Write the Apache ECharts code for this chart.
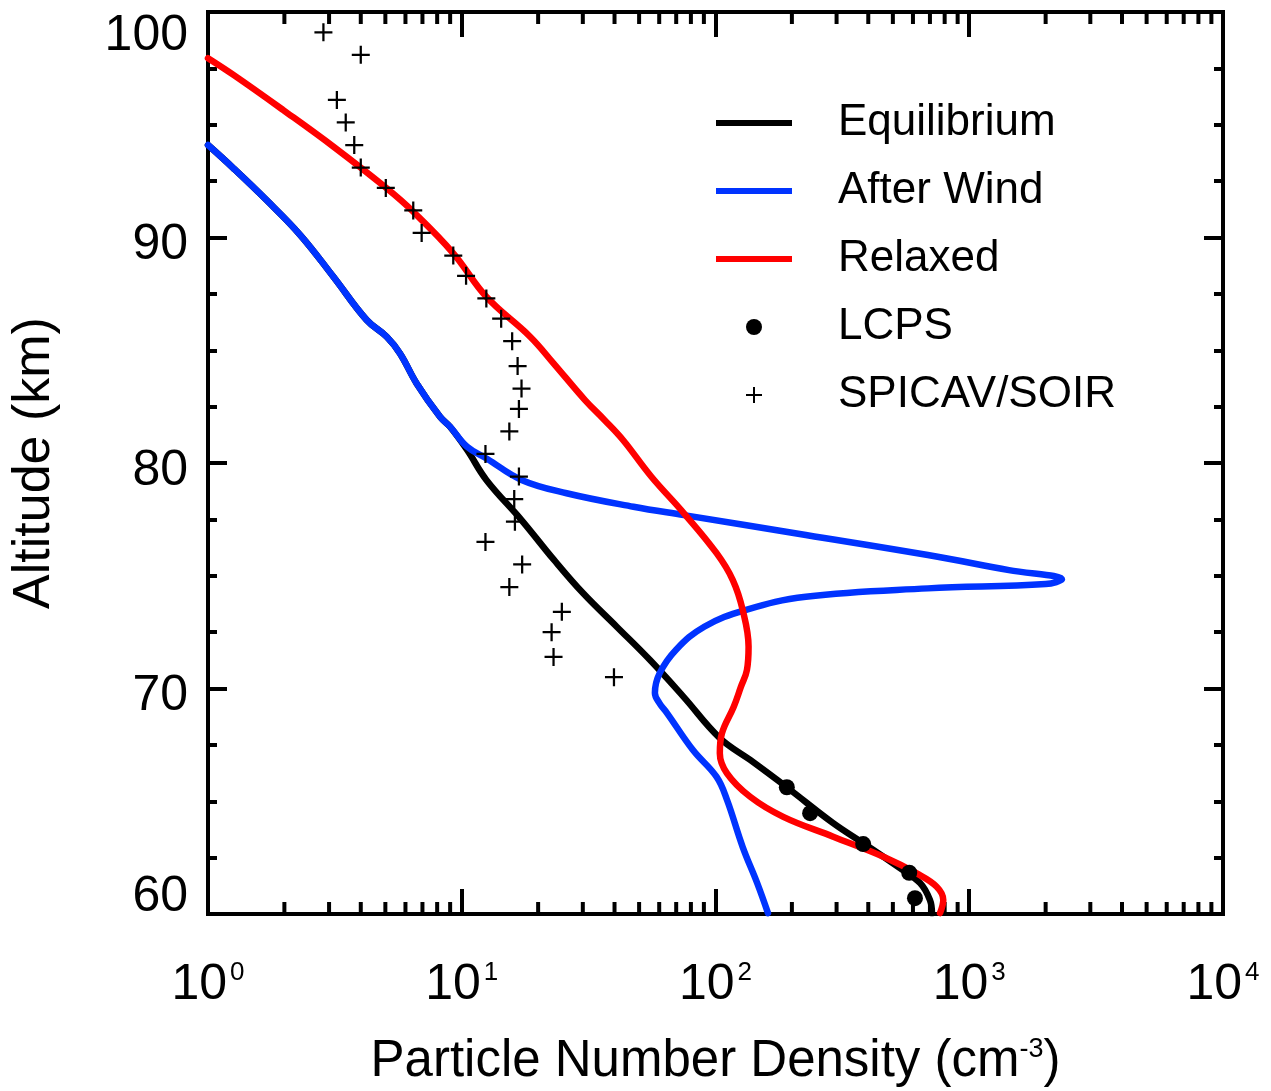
<!DOCTYPE html>
<html><head><meta charset="utf-8">
<script src="https://cdn.jsdelivr.net/npm/echarts@6/dist/echarts.min.js"></script>
<style>html,body{margin:0;padding:0;background:#fff}#c{width:1271px;height:1091px}</style>
</head><body><div id="c"></div>
<script>
// ---------------- data ----------------
const seriesNames = ['Equilibrium', 'After Wind', 'Relaxed', 'LCPS', 'SPICAV/SOIR'];

const equilibriumDensity = [1.00, 1.26, 1.70, 2.31, 3.12, 4.22, 5.06, 5.71, 6.64, 8.21, 8.99, 10.5, 12.5, 17.2, 23.1, 30.1, 40.8, 55.2, 74.7, 104, 137, 191, 290, 381, 526, 640, 700, 713];
const equilibriumAlt     = [94.10, 93.07, 91.66, 90.11, 88.26, 86.34, 85.60, 84.86, 83.53, 82.05, 81.61, 80.58, 79.25, 77.47, 75.70, 74.22, 72.74, 71.26, 69.64, 67.80, 66.83, 65.62, 64.04, 63.15, 62.08, 61.37, 60.62, 60.04];

const afterWindDensity = [1.00, 1.26, 1.70, 2.31, 3.12, 4.22, 5.06, 5.71, 6.64, 8.21, 8.99, 10.5, 12.6, 17.2, 25.9, 47.5, 75.1, 227, 687, 1434, 2320, 2001, 687, 227, 131, 90.3, 69.8, 60.2, 57.7, 60.2, 64.4, 81.5, 101, 111, 128, 146, 161];
const afterWindAlt     = [94.10, 93.07, 91.66, 90.11, 88.26, 86.34, 85.60, 84.86, 83.53, 82.05, 81.61, 80.72, 80.18, 79.25, 78.66, 78.06, 77.69, 76.81, 75.92, 75.25, 74.84, 74.63, 74.44, 74.07, 73.48, 72.74, 71.71, 70.67, 69.80, 69.34, 68.91, 67.27, 66.08, 65.06, 62.97, 61.37, 60.04];

const relaxedDensity = [1.00, 1.26, 1.98, 3.12, 5.06, 6.44, 9.26, 12.5, 18.6, 23.0, 30.6, 36.5, 43.2, 55.9, 75.1, 101, 117, 128, 135, 133, 126, 118, 106, 104, 111, 137, 185, 291, 459, 621, 744, 790, 767];
const relaxedAlt     = [97.95, 97.21, 95.65, 94.03, 92.18, 91.14, 89.30, 87.37, 85.60, 84.42, 82.79, 81.91, 81.02, 79.39, 77.77, 76.00, 74.81, 73.48, 71.85, 70.82, 70.08, 69.19, 68.01, 67.13, 66.24, 65.20, 64.31, 63.43, 62.54, 61.80, 61.21, 60.62, 60.04];

const lcpsDensity = [191, 236, 382, 580, 611];
const lcpsAlt     = [65.62, 64.47, 63.10, 61.83, 60.70];

const spicavDensity = [2.85, 4.00, 3.22, 3.49, 3.77, 4.00, 5.02, 6.44, 6.95, 9.26, 10.4, 12.5, 14.3, 15.8, 16.6, 17.2, 16.8, 15.4, 12.4, 16.8, 16.1, 16.2, 12.4, 17.3, 15.4, 24.8, 22.6, 23.0, 39.8];
const spicavAlt     = [99.1, 98.1, 96.1, 95.1, 94.1, 93.1, 92.2, 91.2, 90.2, 89.2, 88.3, 87.3, 86.4, 85.4, 84.3, 83.3, 82.4, 81.4, 80.4, 79.4, 78.4, 77.4, 76.5, 75.5, 74.5, 73.4, 72.5, 71.4, 70.5];

// axis ranges and minor (log) tick values
const xMin = 1, xMax = 10000;
const yMin = 60, yMax = 100, yStep = 10;
const xMinorTicks = [2,3,4,5,6,7,8,9, 20,30,40,50,60,70,80,90, 200,300,400,500,600,700,800,900, 2000,3000,4000,5000,6000,7000,8000,9000];

// ---------------- styling ----------------
const FONT = "'Liberation Sans', Arial, Helvetica, sans-serif";
const colors = ['#000000', '#0033ff', '#ff0000', '#000000', '#000000'];
const crossPath = 'path://M7,0h2v7h7v2h-7v7h-2v-7h-7v-2h7z';
const legendLine = 'path://M0,0H76V6H0Z';

function pairs(xs, ys) { return xs.map((x, i) => [x, ys[i]]); }

const chart = echarts.init(document.getElementById('c'), null, {renderer: 'canvas'});

function lineSeries(i, xs, ys) {
  return {
    name: seriesNames[i], type: 'line', data: pairs(xs, ys),
    xAxisIndex: 0, yAxisIndex: 0,
    showSymbol: false, symbol: 'none', smooth: 0.4, clip: true,
    color: colors[i],
    itemStyle: {color: colors[i], opacity: 1},
    lineStyle: {color: colors[i], width: 6.5, join: 'round', cap: 'round', opacity: 1},
    z: 3 + i, silent: true
  };
}

const xAxisBase = {
  type: 'log', logBase: 10, min: xMin, max: xMax, gridIndex: 0,
  axisLine: {show: false},
  splitLine: {show: false},
  axisTick: {show: true, inside: true, length: 25, lineStyle: {color: '#000', width: 4}},
  minorTick: {show: false}
};
const yAxisBase = {
  type: 'value', min: yMin, max: yMax, interval: yStep, gridIndex: 0,
  axisLine: {show: false},
  splitLine: {show: false},
  axisTick: {show: true, inside: true, length: 19, lineStyle: {color: '#000', width: 4}},
  minorTick: {show: true, splitNumber: 4, length: 9, lineStyle: {color: '#000', width: 4}},
  minorSplitLine: {show: false}
};

const option = {
  animation: false,
  backgroundColor: '#ffffff',
  textStyle: {fontFamily: FONT, color: '#000'},
  grid: {left: 208, top: 12, width: 1015, height: 902, show: true, borderColor: '#000', borderWidth: 4,
         backgroundColor: 'transparent', containLabel: false, outerBoundsMode: 'none'},
  legend: {
    orient: 'vertical', left: 716, top: 98, padding: 0,
    itemWidth: 76, itemHeight: 16, itemGap: 18,
    selectedMode: false,
    itemStyle: {opacity: 1},
    textStyle: {fontFamily: FONT, fontSize: 44, color: '#000', lineHeight: 50,
      rich: {g: {width: 41}}},
    formatter: name => '{g| }' + name,
    data: [
      {name: seriesNames[0], icon: legendLine},
      {name: seriesNames[1], icon: legendLine},
      {name: seriesNames[2], icon: legendLine},
      {name: seriesNames[3], icon: 'circle'},
      {name: seriesNames[4], icon: crossPath}
    ]
  },
  xAxis: [
    Object.assign({}, xAxisBase, {
      position: 'bottom',
      name: 'Particle Number Density (cm{sup|-3})',
      nameLocation: 'middle', nameGap: 122, nameMoveOverlap: false,
      nameTextStyle: {fontFamily: FONT, fontSize: 51, color: '#000',
        rich: {sup: {fontFamily: FONT, fontSize: 27, color: '#000', verticalAlign: 'top'}}},
      axisLabel: {
        show: true, margin: 46, color: '#000',
        formatter: v => '{b|10}{s|' + Math.round(Math.log10(v)) + '}',
        rich: {
          b: {fontFamily: FONT, fontSize: 50, color: '#000'},
          s: {fontFamily: FONT, fontSize: 26, color: '#000', verticalAlign: 'top', padding: [0, 0, 4, 3]}
        }
      }
    }),
    Object.assign({}, xAxisBase, {position: 'top', axisLabel: {show: false}})
  ],
  yAxis: [
    Object.assign({}, yAxisBase, {
      position: 'left',
      name: 'Altitude (km)', nameLocation: 'middle', nameGap: 147, nameMoveOverlap: false,
      nameTextStyle: {fontFamily: FONT, fontSize: 52, color: '#000'},
      axisLabel: {
        show: true, margin: 20, color: '#000',
        formatter: v => v === yMax ? '{hi|' + v + '}' : (v === yMin ? '{lo|' + v + '}' : '{n|' + v + '}'),
        rich: {
          hi: {fontFamily: FONT, fontSize: 50, color: '#000', padding: [49, 0, 0, 0]},
          n:  {fontFamily: FONT, fontSize: 50, color: '#000', padding: [16, 0, 0, 0]},
          lo: {fontFamily: FONT, fontSize: 50, color: '#000', padding: [0, 0, 33, 0]}
        }
      }
    }),
    Object.assign({}, yAxisBase, {position: 'right', axisLabel: {show: false}})
  ],
  series: [
    {
      name: 'xMinorTicks', type: 'custom', xAxisIndex: 0, yAxisIndex: 0, silent: true, z: 2,
      data: xMinorTicks.map(v => [v, yMin]),
      renderItem: function (params, api) {
        const v = api.value(0);
        const pb = api.coord([v, yMin]);
        const pt = api.coord([v, yMax]);
        const st = {stroke: '#000', lineWidth: 4};
        return {type: 'group', children: [
          {type: 'line', shape: {x1: pb[0], y1: pb[1], x2: pb[0], y2: pb[1] - 12}, style: st},
          {type: 'line', shape: {x1: pt[0], y1: pt[1], x2: pt[0], y2: pt[1] + 12}, style: st}
        ]};
      }
    },
    lineSeries(0, equilibriumDensity, equilibriumAlt),
    lineSeries(1, afterWindDensity, afterWindAlt),
    lineSeries(2, relaxedDensity, relaxedAlt),
    {
      name: seriesNames[3], type: 'scatter', data: pairs(lcpsDensity, lcpsAlt),
      symbol: 'circle', symbolSize: 16, color: '#000', itemStyle: {color: '#000', opacity: 1}, z: 10, silent: true
    },
    {
      name: seriesNames[4], type: 'scatter', data: pairs(spicavDensity, spicavAlt),
      symbol: crossPath, symbolSize: 18, color: '#000', itemStyle: {color: '#000', opacity: 1}, z: 10, silent: true
    }
  ]
};
chart.setOption(option);
</script></body></html>
